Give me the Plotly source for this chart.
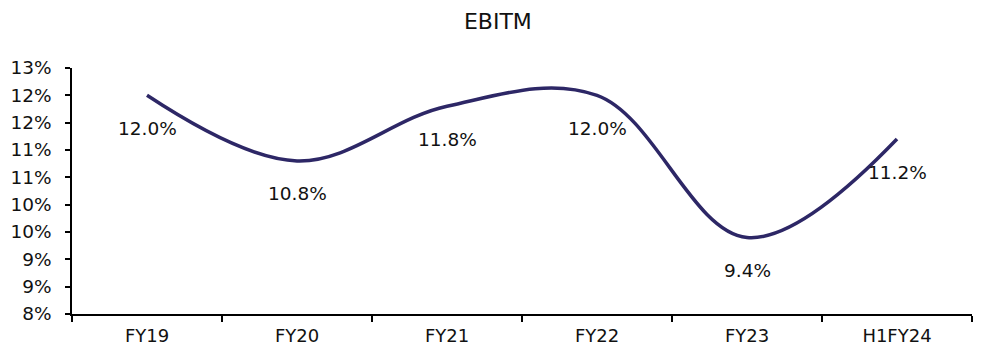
import plotly.graph_objects as go

# EBIT margin by fiscal period (%)
periods = ["FY19", "FY20", "FY21", "FY22", "FY23", "H1FY24"]
ebitm = [12.0, 10.8, 11.8, 12.0, 9.4, 11.2]

# y-axis ticks every half point, labels rounded to whole percent
tick_vals = [8.0, 8.5, 9.0, 9.5, 10.0, 10.5, 11.0, 11.5, 12.0, 12.5]
tick_text = ["8%", "9%", "9%", "10%", "10%", "11%", "11%", "12%", "12%", "13%"]

FONT = "DejaVu Sans, Verdana, sans-serif"
LINE_COLOR = "#2d2766"
TEXT = "#111"

fig = go.Figure()
fig.add_trace(go.Scatter(
    x=periods, y=ebitm, mode="lines",
    line=dict(color=LINE_COLOR, width=3.5, shape="spline", smoothing=1.05),
    hoverinfo="skip", showlegend=False,
))

for p, v in zip(periods, ebitm):
    fig.add_annotation(x=p, y=v, text=f"{v:.1f}%", showarrow=False,
                       yshift=-33, font=dict(family=FONT, size=18.5, color=TEXT))

fig.update_layout(
    width=982, height=349,
    margin=dict(l=72, r=10, t=68, b=35),
    paper_bgcolor="white", plot_bgcolor="white",
    title=dict(text="EBITM", x=0.507, xanchor="center", y=0.94, yanchor="middle",
               font=dict(family=FONT, size=22, color=TEXT)),
    font=dict(family=FONT, size=18, color=TEXT),
)
fig.update_xaxes(
    type="category", range=[-0.5, 5.5], automargin=False,
    showline=True, linecolor="#000", linewidth=1.5,
    ticks="outside", tickson="boundaries", ticklen=6, tickcolor="#000", tickwidth=1.5,
    ticklabelstandoff=5,
    showgrid=False, tickfont=dict(family=FONT, size=18, color=TEXT),
)
fig.update_yaxes(
    range=[8, 12.5], tickvals=tick_vals, ticktext=tick_text, automargin=False,
    showline=True, linecolor="#000", linewidth=1.5,
    ticks="outside", ticklen=5, tickcolor="#000", tickwidth=1.5,
    ticklabelstandoff=10,
    showgrid=False, zeroline=False, tickfont=dict(family=FONT, size=18.5, color=TEXT),
)

fig.write_html("out.html")
